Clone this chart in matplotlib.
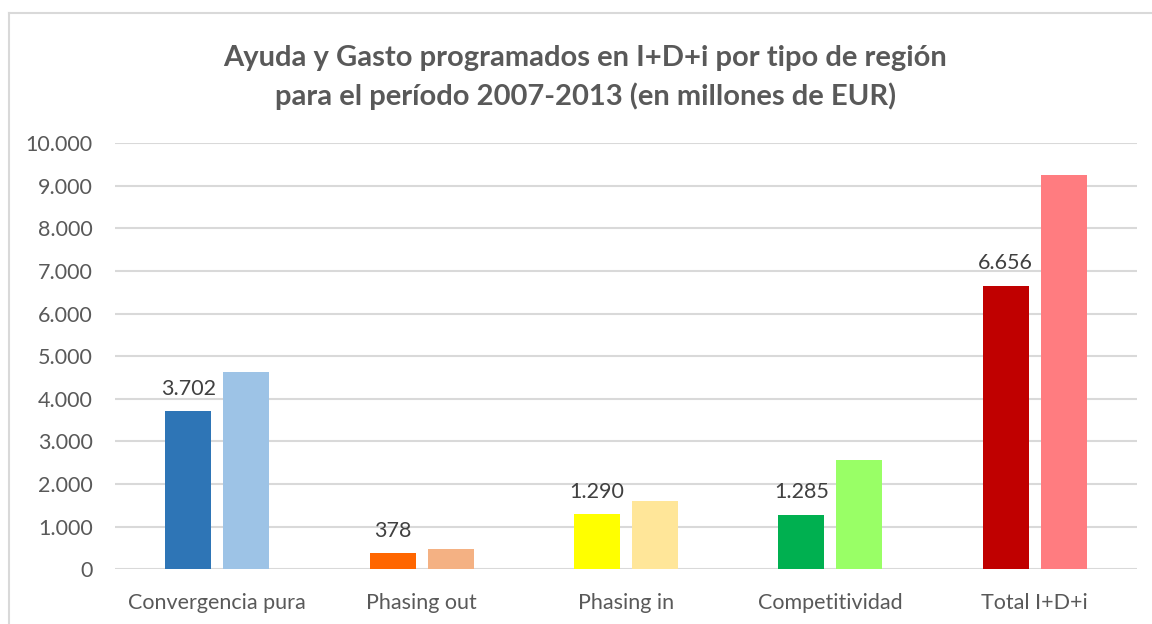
import numpy as np
import matplotlib.pyplot as plt
from matplotlib.lines import Line2D

plt.rcParams['font.family'] = ['Lato', 'DejaVu Sans']

# datos (millones de EUR)
categorias = ['Convergencia pura', 'Phasing out', 'Phasing in', 'Competitividad', 'Total I+D+i']
ayuda = [3702, 378, 1290, 1285, 6656]
gasto = [4630, 475, 1600, 2565, 9260]
etiquetas_ayuda = ['3.702', '378', '1.290', '1.285', '6.656']
ticks_y = [0, 1000, 2000, 3000, 4000, 5000, 6000, 7000, 8000, 9000, 10000]
ticks_y_txt = ['0', '1.000', '2.000', '3.000', '4.000', '5.000', '6.000', '7.000', '8.000', '9.000', '10.000']

col_oscuro = ['#2E75B6', '#FF6600', '#FFFF00', '#00B050', '#C00000']
col_claro = ['#9DC3E6', '#F4B183', '#FFE699', '#99FF66', '#FF7C80']

gris = '#595959'
x = np.arange(len(categorias))
ancho = 0.225
desp = 0.142

fig = plt.figure(figsize=(11.52, 6.24), dpi=100)
ax = fig.add_axes([115 / 1152, 1 - 569.3 / 624, 1022 / 1152, (569.3 - 143) / 624])

ax.bar(x - desp, ayuda, ancho, color=col_oscuro, zorder=3)
ax.bar(x + desp, gasto, ancho, color=col_claro, zorder=3)

for xi, v, t in zip(x, ayuda, etiquetas_ayuda):
    ax.annotate(t, (xi - desp, v), xytext=(0, 9), textcoords='offset points',
                ha='center', va='bottom', fontsize=15.5, color='#404040')

ax.set_xlim(-0.5, len(categorias) - 0.5)
ax.set_ylim(0, 10000)
ax.set_yticks(ticks_y)
ax.set_yticklabels(ticks_y_txt)
ax.set_xticks(x)
ax.set_xticklabels(categorias)
ax.tick_params(axis='both', length=0, labelsize=15.5, colors=gris)
ax.tick_params(axis='y', pad=16)
ax.tick_params(axis='x', pad=17)
ax.grid(axis='y', color='#D9D9D9', linewidth=1.5, zorder=0)
for s in ax.spines.values():
    s.set_visible(False)

fig.text(0.508, 0.876, 'Ayuda y Gasto programados en I+D+i por tipo de región\n'
         'para el período 2007-2013 (en millones de EUR)',
         ha='center', va='center', fontsize=21, fontweight='bold', color=gris,
         linespacing=1.5)

# borde del gráfico
fig.add_artist(Line2D([9 / 1152, 9 / 1152], [0, 1 - 12.5 / 624], color='#D9D9D9', linewidth=1.5))
fig.add_artist(Line2D([9 / 1152, 1], [1 - 12.5 / 624, 1 - 12.5 / 624], color='#D9D9D9', linewidth=1.5))

fig.savefig('out.png', dpi=100)
